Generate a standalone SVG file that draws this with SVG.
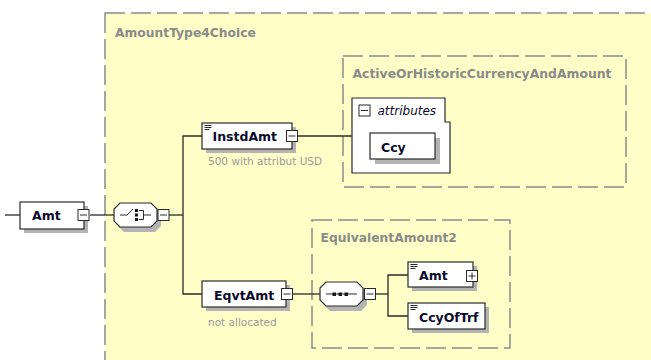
<svg xmlns="http://www.w3.org/2000/svg" width="651" height="360" viewBox="0 0 651 360">
<style>
.bg{fill:#FFFFC8}
.dash{fill:none;stroke:#8a8a8a;stroke-width:1.5;stroke-dasharray:20 6}
.title{font-family:"DejaVu Sans",sans-serif;font-weight:bold;font-size:12.3px;fill:#8a8a8a}
.node{fill:#fff;stroke:#2a2a2a;stroke-width:1.2}
.shadow{fill:#b4b4b4}
.lbl{font-family:"DejaVu Sans",sans-serif;font-weight:bold;font-size:12.5px;fill:#0a0a2a}
.sub{font-family:"DejaVu Sans",sans-serif;font-size:10.5px;fill:#9a9a9a}
.ital{font-family:"DejaVu Sans",sans-serif;font-style:italic;font-size:12px;fill:#0a0a2a}
.line{fill:none;stroke:#2a2a2a;stroke-width:1.3}
.btn{fill:#fff;stroke:#2a2a2a;stroke-width:1}
.ico{stroke:#2a2a2a;stroke-width:1}
</style>
<defs>
<g id="minus"><rect class="btn" x="0" y="0" width="11" height="11"/><line class="ico" x1="2" y1="5.5" x2="9" y2="5.5"/></g>
<g id="plus"><rect class="btn" x="0" y="0" width="11" height="11"/><line class="ico" x1="2" y1="5.5" x2="9" y2="5.5"/><line class="ico" x1="5.5" y1="2" x2="5.5" y2="9"/></g>
<g id="elicon"><line class="ico" x1="0" y1="0.5" x2="7" y2="0.5"/><line class="ico" x1="0" y1="2.5" x2="7" y2="2.5"/><line class="ico" x1="0" y1="4.5" x2="5" y2="4.5"/></g>
</defs>

<g id="AmountType4Choice">
<rect class="bg" x="105" y="13" width="560" height="360"/>
<rect class="dash" x="105" y="13" width="560" height="360"/>
<text class="title" x="115" y="36.5">AmountType4Choice</text>
</g>

<g id="ActiveOrHistoricCurrencyAndAmount">
<rect class="dash" x="343" y="56" width="283" height="131"/>
<text class="title" x="352.5" y="77.5" style="font-size:12.4px">ActiveOrHistoricCurrencyAndAmount</text>
</g>

<g id="EquivalentAmount2">
<rect class="dash" x="312" y="220" width="198" height="128"/>
<text class="title" x="320.5" y="241.5">EquivalentAmount2</text>
</g>

<g id="connectors">
<line class="line" x1="5" y1="215" x2="20" y2="215"/>
<line class="line" x1="90" y1="215" x2="114" y2="215"/>
<line class="line" x1="169" y1="215" x2="183" y2="215"/>
<polyline class="line" points="202,136 183,136 183,294 202,294"/>
<line class="line" x1="298" y1="136" x2="352" y2="136"/>
<line class="line" x1="293" y1="294" x2="320" y2="294"/>
<line class="line" x1="376" y1="294" x2="388" y2="294"/>
<polyline class="line" points="408,275 388,275 388,316 408,316"/>
</g>

<g id="Amt">
<rect class="shadow" x="24" y="206" width="64" height="27"/>
<rect class="node" x="20" y="202" width="64" height="27"/>
<text class="lbl" x="32" y="219.5">Amt</text>
<use href="#minus" x="78" y="209.5"/>
</g>

<g id="choice">
<polygon class="shadow" points="124,208 155,208 161,214 161,226 155,232 124,232 118,226 118,214"/>
<polygon class="node" points="120,203 151,203 157,209 157,221 151,227 120,227 114,221 114,209"/>
<line class="ico" x1="120" y1="215" x2="127" y2="215"/>
<line class="ico" x1="127" y1="215" x2="133" y2="209"/>
<rect x="135" y="209" width="3" height="3" fill="#1a1a1a"/>
<rect x="135" y="213.5" width="3" height="3" fill="#1a1a1a"/>
<rect x="135" y="218" width="3" height="3" fill="#1a1a1a"/>
<polyline class="ico" fill="none" points="139,210.5 143.5,210.5 143.5,219.5 139,219.5"/>
<line class="ico" x1="143.5" y1="215" x2="151" y2="215"/>
<use href="#minus" x="158" y="209.5"/>
</g>

<g id="InstdAmt">
<rect class="shadow" x="206" y="127" width="90" height="26"/>
<rect class="node" x="202" y="123" width="90" height="26"/>
<use href="#elicon" x="204.5" y="125"/>
<text class="lbl" x="212.5" y="141">InstdAmt</text>
<use href="#minus" x="286.5" y="130.5"/>
<text class="sub" x="208" y="165">500 with attribut USD</text>
</g>

<g id="attributes">
<polygon class="node" points="352,98 445,98 445,122 450,122 450,173 352,173"/>
<use href="#minus" x="359" y="105"/>
<text class="ital" x="377.5" y="115">attributes</text>
</g>

<g id="Ccy">
<rect class="shadow" x="375" y="138" width="65" height="26"/>
<rect class="node" x="370" y="133" width="65" height="26"/>
<text class="lbl" x="381" y="152">Ccy</text>
</g>

<g id="EqvtAmt">
<rect class="shadow" x="206" y="285" width="84" height="26"/>
<rect class="node" x="202" y="281" width="84" height="26"/>
<text class="lbl" x="214" y="299.5">EqvtAmt</text>
<use href="#minus" x="281.5" y="288.5"/>
<text class="sub" x="208" y="326">not allocated</text>
</g>

<g id="sequence">
<polygon class="shadow" points="330,287 361,287 367,293 367,305 361,311 330,311 324,305 324,293"/>
<polygon class="node" points="326,282 357,282 363,288 363,300 357,306 326,306 320,300 320,288"/>
<line class="ico" x1="326" y1="294" x2="357" y2="294"/>
<rect x="332.5" y="292.5" width="3.5" height="3.5" fill="#1a1a1a"/>
<rect x="338.5" y="292.5" width="3.5" height="3.5" fill="#1a1a1a"/>
<rect x="344.5" y="292.5" width="3.5" height="3.5" fill="#1a1a1a"/>
<use href="#minus" x="364.5" y="288.5"/>
</g>

<g id="Amt2">
<rect class="shadow" x="412" y="266" width="65" height="25"/>
<rect class="node" x="408" y="262" width="65" height="25"/>
<use href="#elicon" x="410.5" y="264"/>
<text class="lbl" x="419" y="279.5">Amt</text>
<use href="#plus" x="466.5" y="270.5"/>
</g>

<g id="CcyOfTrf">
<rect class="shadow" x="412" y="307" width="77" height="26"/>
<rect class="node" x="408" y="303" width="77" height="26"/>
<use href="#elicon" x="410.5" y="305"/>
<text class="lbl" x="419" y="321.5">CcyOfTrf</text>
</g>
</svg>
